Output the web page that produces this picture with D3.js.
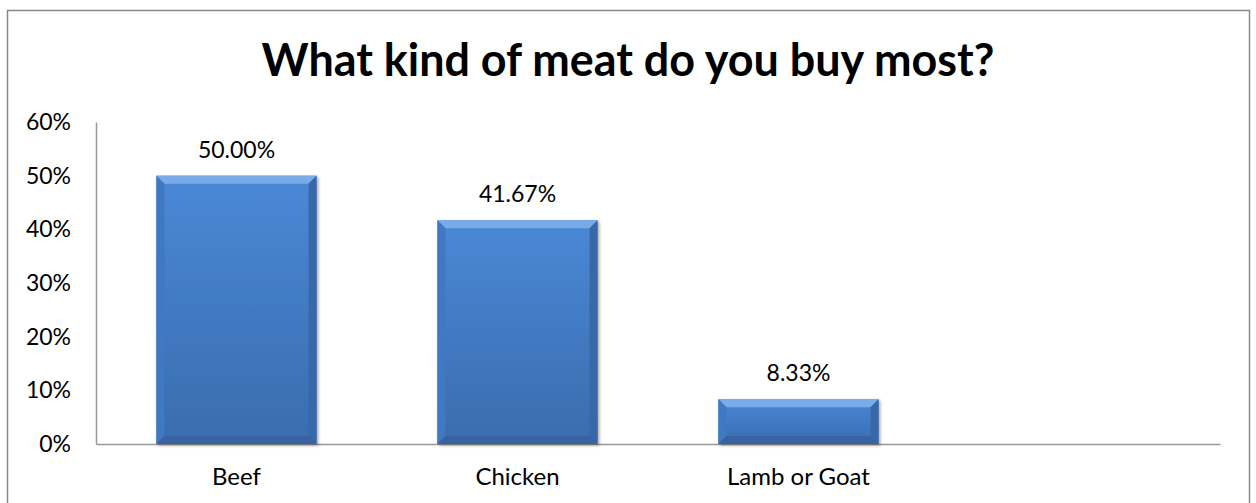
<!DOCTYPE html>
<html><head><meta charset="utf-8">
<script src="https://cdn.jsdelivr.net/npm/d3@7"></script>
<style>body{margin:0;background:#fff}svg{display:block}</style>
</head><body>
<script>
const title = "What kind of meat do you buy most?";
const categories = ["Beef", "Chicken", "Lamb or Goat", ""];
const values = [0.5, 0.4167, 0.0833, null];
const yTicks = [0, 0.1, 0.2, 0.3, 0.4, 0.5, 0.6];

const W = 1256, H = 503;
const font = "Lato, 'Open Sans', sans-serif";
const svg = d3.select("body").append("svg").attr("width", W).attr("height", H);

svg.append("rect").attr("x", 7.5).attr("y", 10.5).attr("width", 1242).attr("height", 520)
  .attr("fill", "#fff").attr("stroke", "#888").attr("stroke-width", 1.5);

const x = d3.scaleBand().domain(categories.map((c, i) => i)).range([96, 1220]).paddingInner(0.43).paddingOuter(0.215);
const y = d3.scaleLinear().domain([0, 0.6]).range([444, 122]);

const defs = svg.append("defs");
const g = defs.append("linearGradient").attr("id", "bar").attr("x1", 0).attr("x2", 0).attr("y1", 0).attr("y2", 1);
g.append("stop").attr("offset", "0%").attr("stop-color", "#4a88d6");
g.append("stop").attr("offset", "100%").attr("stop-color", "#3a6cae");
const f = defs.append("filter").attr("id", "sh").attr("x", "-10%").attr("y", "-10%").attr("width", "125%").attr("height", "125%");
f.append("feDropShadow").attr("dx", 1.5).attr("dy", 1.5).attr("stdDeviation", 1.5).attr("flood-color", "#000").attr("flood-opacity", 0.35);

// title
const t = svg.append("text").attr("x", 628).attr("y", 76).attr("text-anchor", "middle")
  .attr("font-family", font).attr("font-weight", "bold").attr("font-size", 42).attr("fill", "#000").text(title);
const tl = t.node().getComputedTextLength();
t.attr("font-size", 42 * 733 / tl);

// y axis
const yAxis = svg.append("g").attr("transform", "translate(96,0)")
  .call(d3.axisLeft(y).tickValues(yTicks).tickFormat(d3.format(".0%")).tickSize(0).tickPadding(25));
yAxis.select(".domain").attr("stroke", "#999").attr("stroke-width", 1.5);
yAxis.selectAll("text").attr("font-family", font).attr("font-size", 23).attr("fill", "#000");

// x axis
const xAxis = svg.append("g").attr("transform", "translate(0,444)")
  .call(d3.axisBottom(x).tickFormat(i => categories[i]).tickSize(0).tickPadding(24));
xAxis.select(".domain").attr("stroke", "#999").attr("stroke-width", 1.5);
xAxis.selectAll("text").attr("font-family", font).attr("font-size", 24).attr("fill", "#000");

// bars
const data = values.map((v, i) => ({i, v})).filter(d => d.v != null);
const bars = svg.append("g").selectAll("g").data(data).join("g").attr("filter", "url(#sh)");
const b = 8;
bars.each(function(d) {
  const sel = d3.select(this);
  const x0 = x(d.i), x1 = x0 + x.bandwidth(), y0 = y(d.v), y1 = y(0);
  sel.append("rect").attr("x", x0).attr("y", y0).attr("width", x1 - x0).attr("height", y1 - y0).attr("fill", "url(#bar)");
  const bb = Math.min(b, (y1 - y0) / 2);
  sel.append("polygon").attr("points", [[x0, y0], [x1, y0], [x1 - bb, y0 + bb], [x0 + bb, y0 + bb]].join(" ")).attr("fill", "#78abe8");
  sel.append("polygon").attr("points", [[x0, y0], [x0 + bb, y0 + bb], [x0 + bb, y1 - bb], [x0, y1]].join(" ")).attr("fill", "#4079c2");
  sel.append("polygon").attr("points", [[x1, y0], [x1 - bb, y0 + bb], [x1 - bb, y1 - bb], [x1, y1]].join(" ")).attr("fill", "#3767a8");
  sel.append("polygon").attr("points", [[x0, y1], [x0 + bb, y1 - bb], [x1 - bb, y1 - bb], [x1, y1]].join(" ")).attr("fill", "#3764a3");
});
svg.append("g").selectAll("text").data(data).join("text")
  .attr("x", d => x(d.i) + x.bandwidth() / 2).attr("y", d => y(d.v) - 18)
  .attr("text-anchor", "middle").attr("font-family", font).attr("font-size", 23).attr("fill", "#000")
  .text(d => d3.format(".2%")(d.v));
</script>
</body></html>
